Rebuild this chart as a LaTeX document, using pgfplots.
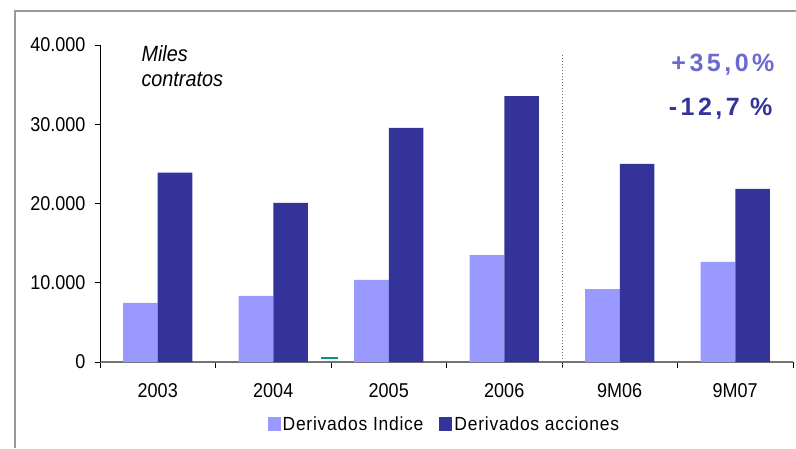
\documentclass[border=0pt]{standalone}
\usepackage{pgfplots}
\pgfplotsset{compat=1.18}
\usepackage{fontspec}
\setmainfont{Liberation Sans}[FakeStretch=0.9]
\newfontfamily\pctfont{Liberation Sans}[LetterSpace=14]
\newfontfamily\legfont{Liberation Sans}[FakeStretch=0.92,LetterSpace=4]
\definecolor{lightbar}{HTML}{9999FF}
\definecolor{darkbar}{HTML}{333399}
\definecolor{pctlight}{HTML}{6A6AD0}
\definecolor{framegray}{HTML}{9A9A9A}
\begin{document}
\begin{tikzpicture}[x=1pt,y=1pt]
\useasboundingbox (0,0) rectangle (796,448);
\fill[white] (0,0) rectangle (796,448);
\draw[framegray, line width=2.5pt] (15,0) -- (15,437) -- (796,437);
\begin{axis}[
  at={(100pt,86pt)}, anchor=south west,
  scale only axis, width=693pt, height=317pt,
  xmin=-0.5, xmax=5.5, ymin=0, ymax=40000,
  scaled y ticks=false,
  axis x line*=bottom, axis y line*=left,
  x axis line style={draw=black!55, line width=1.3pt, -},
  y axis line style={draw=black, line width=0.8pt, -},
  ybar=0pt, bar width=0.3,
  xtick={0,...,5},
  xticklabels={2003,2004,2005,2006,9M06,9M07},
  major x tick style={draw=none},
  minor xtick={-0.5,0.5,...,5.5},
  minor x tick style={draw=black, line width=0.8pt},
  minor tick length=6pt,
  ytick={0,10000,20000,30000,40000},
  yticklabels={0,10.000,20.000,30.000,40.000},
  y tick style={draw=black, line width=0.8pt},
  major tick length=5pt,
  tick align=outside,
  tick label style={font=\fontsize{20}{22}\selectfont},
  xticklabel style={yshift=-13pt},
  yticklabel style={xshift=-6pt},
  clip=false,
  legend style={at={(0.497,-0.197)}, anchor=center, draw=none, fill=none,
    font=\legfont\fontsize{19}{21}\selectfont, legend columns=2,
    /tikz/every even column/.append style={column sep=14pt}},
  legend image code/.code={\fill[#1] (0pt,-7pt) rectangle (13pt,7pt);},
]
\addplot[fill=lightbar, draw=none] coordinates {(0,7450) (1,8330) (2,10350) (3,13500) (4,9210) (5,12620)};
\addplot[fill=darkbar, draw=none] coordinates {(0,23900) (1,20080) (2,29550) (3,33560) (4,25000) (5,21850)};
\legend{Derivados Indice, Derivados acciones}
\end{axis}
\begin{axis}[
  at={(100pt,86pt)}, anchor=south west,
  scale only axis, width=693pt, height=317pt,
  xmin=-0.5, xmax=5.5, ymin=0, ymax=40000,
  hide axis, clip=false,
]
\addplot[black!55, dotted, line width=1pt] coordinates {(3.5,-800) (3.5,38750)};
\addplot[teal!85!cyan, line width=2pt] coordinates {(1.412,480) (1.558,480)};
\end{axis}
\node[anchor=north west, align=left, font=\fontsize{22}{25}\selectfont\itshape] at (138,406) {Miles\\contratos};
\node[anchor=east, font=\pctfont\fontsize{25}{27}\selectfont\bfseries, text=pctlight] at (778,383) {+35,0\%};
\node[anchor=east, font=\pctfont\fontsize{25}{27}\selectfont\bfseries, text=darkbar] at (776,339) {-12,7 \%};
\end{tikzpicture}
\end{document}
